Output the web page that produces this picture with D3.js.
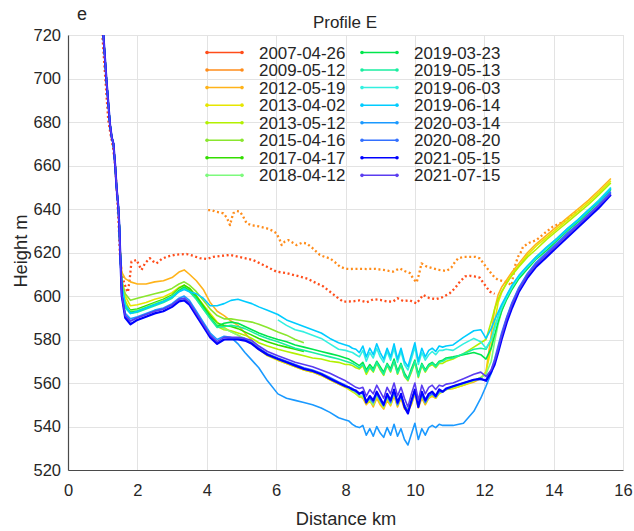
<!DOCTYPE html>
<html><head><meta charset="utf-8">
<script src="https://cdn.jsdelivr.net/npm/d3@7"></script>
<style>
body{margin:0;background:#fff}
svg{display:block}
text{font-family:"Liberation Sans",Arial,Helvetica,sans-serif;fill:#262626}
</style>
</head><body>
<svg id="chart" width="634" height="531"></svg>
<script>
// ---------------- DATA ----------------
const panelLabel = "e";
const chartTitle = "Profile E";
const xLabel = "Distance km";
const yLabel = "Height m";
const xTicks = [0,2,4,6,8,10,12,14,16];
const yTicks = [520,540,560,580,600,620,640,660,680,700,720];

const dates = ["2007-04-26","2009-05-12","2012-05-19","2013-04-02","2013-05-12","2015-04-16","2017-04-17","2018-04-12",
               "2019-03-23","2019-05-13","2019-06-03","2019-06-14","2020-03-14","2020-08-20","2021-05-15","2021-07-15"];

// shared ice-cliff part at the start of each solid profile
const steepKm = [0.95,1.02,1.11,1.21,1.26,1.31,1.36,1.40,1.45,1.48,1.50];
const steepHeight = [728,720,699,679,673,670,660,650,641,632,622];

// distance grid (km) for the solid profiles
const gridKm = [1.55,1.65,1.8,2.0,2.25,2.5,2.75,3.0,3.2,3.35,3.5,3.7,3.9,4.1,4.3,4.5,4.7,4.9,5.1,5.3,5.5,5.75,6.05,6.3,6.55,6.8,7.05,7.3,7.55,7.8,8.0,
 8.1,8.2,8.3,8.4,8.5,8.6,8.7,8.8,8.9,9.0,9.1,9.2,9.3,9.4,9.5,9.6,9.7,9.8,9.9,10.0,10.1,10.2,10.3,10.4,10.5,10.6,10.7,10.8,10.9,
 11.1,11.4,11.7,11.9,12.05,12.2,12.3,12.4,12.5,12.65,12.8,13.0,13.25,13.5,13.8,14.1,14.4,14.7,15.0,15.3,15.65];

const h20120519 = [611,608,606.5,605.5,605.5,606.5,607,608.5,611,612,610,607,603,597,593,591,588.5,586.5,583,579.5,576,573,570.5,569,567.5,566,565,563.5,561.5,559.5,558,
 557.5,556.5,555,554,553,550,552,549,553,550,548,552,549.5,554,549,553,548,547,550,555,548.5,553,550,553,554,553,555.5,556,557,
 557.5,559,560.5,562,565,582,594,600.5,604,607.5,611,615,620,624,628,632,636,640,644,648.5,654];
const h20130402 = [607,600,595.5,596,597,598.5,599.5,601.5,604,605,603.5,600,596,592,588,585.5,583.5,582,580,578,575.5,572.5,570.5,569,567.5,566,565,563.5,561.5,559.5,558,
 557,556,555,553.5,553.5,550.5,551.5,550,554,551,548.5,553,550,555,549.5,553.5,549,548,550.5,555.5,549,554,550.5,553,554.5,553,555,556,557,
 557.5,559,561,562.5,565,576,588,597,601.5,606,610,614,619,623,627,631,635,639,643,647.5,653];
const h20130512 = [605,598,593,593.5,595,596.5,598,600,603,604.5,603,599.5,595,590,586,584.5,584,583,582,580.5,578.5,577,575.5,574.5,573.5,572.5,571.5,571,570,569.5,568.5,
 568.5,568,567,566.5,568,564,567,565,569,566,563.5,568,565,570,564,568,563,561,565,569.5,562.5,568,565,567.5,568.5,567,569,569,570,
 571,573.5,576.5,578.5,580,588,594,598.5,602,606,609.5,613.5,618,621.5,626,630,634,638,642,646.5,652];
const h20150416 = [607,601,598,599,600,601,602,603.5,605.5,606.5,605,602,598,594,591,589.5,589.5,589,588.5,588,587,585.5,583.5,582,580,578.5,
 null,null,null,null,null,
 null,null,null,null,null,null,null,null,null,null,null,null,null,null,null,null,null,null,null,null,null,null,null,null,null,null,null,null,null,
 null,null,null,null,null,null,null,null,null,null,null,null,null,null,null,null,null,null,null,null,null];
const h20170417 = [604,596,593.5,594,595.5,597,598.5,600.5,603.5,605,603.5,600,595.5,591,587.5,586.5,586,585,583.5,582,580.5,579,577.5,576.5,575.5,574.5,
 null,null,null,null,null,
 null,null,null,null,null,null,null,null,null,null,null,null,null,null,null,null,null,null,null,null,null,null,null,null,null,null,null,null,null,
 null,null,null,null,null,null,null,null,null,null,null,null,null,null,null,null,null,null,null,null,null];
const h20180412 = [604,596,593,593.5,595,596.5,598,600,603,604,602.5,598.5,594,590,587,585,583.5,582,580.5,578.5,576,573,571,569.5,568,566.5,565.5,564,562,560,558.5,
 557.5,556.5,555.5,554,554,551,552.5,550,554.5,551.5,549,553.5,550.5,555.5,550,554,549.5,547.5,551,556,549.5,554.5,551,553.5,555,553.5,555.5,556,557,
 558,559.5,561,562.5,564,570,579,587,593,599.5,604,609,613.5,618,622.5,626.5,631,635,639.5,644,649.5];
const h20190323 = [603,595,592.5,593,594.5,596,597.5,599.5,602.5,604,602.5,599,594.5,590,586,587.5,588,587.5,586,584.5,583,581.5,580,579,577.5,576.5,575.5,574.5,573.5,572.5,571.5,
 571,570,569,568,569.5,566,568.5,566.5,570,567.5,565,569,566.5,571,565.5,569,564.5,562,566.5,570.5,564,569,566,568.5,569.5,568,570,570.5,571.5,
 572,573,574,573,571,576,582,588,593,598.5,603,608,612.5,617,621,625.5,630,634,638.5,643,649];
const h20190513 = [602.5,594.5,592,592.5,594,595.5,597,599,602,603.5,602,598.5,594,589.5,585.5,586,586.5,586,585,583.5,582,580.5,579,577.5,576,575,574,573,572,571,570,
 569.5,569,568,567,568.5,565,567.5,565.5,569.5,566.5,564,568.5,565.5,570,564.5,568.5,563.5,561.5,565.5,570,563,568.5,565.5,568,569,567.5,569.5,570,571,
 571.5,573.5,575.5,576,575.5,580,585.5,590.5,595,600,604.5,609,613.5,618,622,626,630.5,634.5,639,643.5,649.5];
const h20190603 = [null,null,null,null,null,null,null,null,null,null,null,null,null,null,null,null,null,null,null,null,null,null,
 589,586.5,584.5,583.5,582,580.5,578,575.5,575,
 574.5,574,573,572,575,570,574,571.5,576,572,569.5,574.5,570.5,576,569.5,574.5,568.5,566,571,576.5,568.5,574,570.5,573,574.5,573,575,575,575.5,
 575,578,580.5,579,576,580,585,590,594.5,599.5,604,609,613.5,617.5,622,626.5,631,635,639.5,644,650];
const h20190614 = [605,596,592,593,594.5,596,597.5,599.5,602,603,602,601,599,595.5,595.5,596.5,598,598.5,597.5,596.5,595,593.5,591.5,589,587.5,586,584.5,583,580.5,578.5,577.5,
 577,576,575.5,574,577,572,576,573,578,574,571,576,572,578,571,576,570,567.5,573,578.5,570,576,572,575,576,574.5,577,576.5,577,
 577.5,581,584,584.5,580.5,585,589,592.5,596,600.5,605,609.5,614,618,622.5,626.5,631,635,639.5,643.5,649.5];
const h20200314 = [601,592,589.5,590.5,592,593.5,594.5,596.5,599,600,598,593,588,583,580,581.5,581,578,574,570.5,567,561,555,553,552,551,550,548.5,546.5,544,543,
 542.5,541,540,539.5,540.5,536,539,535.5,540,537,535,539.5,536,541,535.5,539,534,531.5,536.5,541.5,534,539,536,539.5,540.5,539.5,541,540.5,540.5,
 540.5,541.5,547,553,558.5,564.5,570,576,582,590,596.5,603.5,610,615,619.5,624,628.5,632.5,637,641.5,647.5];
const h20200820 = [600.5,591,588.5,590,591.5,593,594,596,598.5,599,597,592,587,582,578.5,580,580.5,580.5,580,578.5,576,573.5,571.5,570,568.5,567,566,564.5,562.5,560.5,559,
 558,557.5,556,555.5,555,552,553,551,555,552,549.5,554,551,556,550,554,550,547,551,556,550,555,551,554,555,553.5,556,556,557,
 558.5,560,561.5,561.5,561.5,566,571,577,583,590.5,597,604,610.5,615.5,620,624.5,629,633,637.5,642,648];
const h20210515 = [600,590,587,589,590.5,592,593,595,597.5,598,596,591,586,581,578,580,580,580,579.5,578,575.5,573,571,569.5,568,566.5,565.5,564,562,560,558.5,
 558,557,556.5,555,556,551,554,552,556,553,550,555,552,557,551,555,549,546,552,557,549,556,552,555,556,554,557,556,557.5,
 558.5,560,561.5,562,561,565,568.5,574,580,588,594.5,602,608.5,613.5,618,622.5,627,631.5,636,640.5,646.5];
const h20210715 = [600.5,591,588.5,590,591.5,593,594,596,598.5,599,597,592,587,582,579,581,581,581,580.5,579.5,577,574.5,572.5,571,569.5,568.5,567.5,566,564.5,562.5,561,
 560,559,558,557.5,558,554,557,555,559,556,553,558,555,560,554,558,553,549,555,560,552,559,555,558,559,557,559,558.5,559.5,
 560,562,564,565,563,566,570,575.5,581.5,589.5,596,603,609.5,614.5,619,623.5,628,632.5,637,641.5,647];

// sparse (dotted) early profiles
const km20070426 = [0.97,1.0,1.08,1.16,1.22,1.3,1.36,1.42,1.47,1.5,1.55,1.62,1.69,1.73,1.78,1.83,1.98,2.05,2.12,2.22,2.36,2.45,2.55,2.7,2.84,3.1,3.42,3.6,3.8,4.0,4.18,4.38,4.67,5.04,5.33,5.6,6.01,6.3,6.69,6.9,7.17,7.35,7.55,7.75,7.93,8.2,8.4,8.61,8.8,9.0,9.2,9.37,9.5,9.66,9.85,10.05,10.24,10.42,10.62,10.8,11.0,11.15,11.3,11.45,11.58,11.72,11.87,12.0,12.16,12.3];
const h20070426 = [725,718,699,681,675,668,660,645,630,618,610,606,602.8,601.8,608,615.8,616.6,614,612,615,617.4,616,615,617,618,619,619.3,618.5,617.4,617,618,618.4,618.9,617.6,616.6,614.5,611.2,610.5,608.9,608,605.8,604.5,602,599.5,597.4,597.5,598,597.1,598.5,598.2,597.5,597.4,599,597.7,598,596.6,600.5,599,598.6,599.5,601.2,603.5,606.6,609,609.3,609,608.4,605.5,602,601];
const km20090512 = [4.04,4.15,4.24,4.35,4.48,4.58,4.67,4.76,4.86,4.96,5.05,5.15,5.3,5.5,5.73,5.9,6.01,6.1,6.16,6.25,6.35,6.48,6.59,6.75,6.88,7.05,7.26,7.4,7.55,7.7,7.84,8.0,8.13,8.4,8.61,8.85,9.09,9.25,9.37,9.47,9.57,9.7,9.86,9.95,10.05,10.12,10.19,10.35,10.53,10.7,10.91,11.05,11.15,11.25,11.4,11.58,11.75,11.87,12.0,12.16,12.3,12.4,12.6,12.79,12.88,12.97,13.05,13.12,13.3,13.5,13.75,13.98,14.2,14.37,14.55,14.75];
const h20090512 = [639.5,639.5,638.8,638.5,638,636,632.6,638,639,638.8,636.5,633.4,632.5,632,631.1,630,628.8,626,623.4,625,625.7,624.5,623.4,624.5,624.2,622,618.9,618,617.3,615.5,613.5,612.5,612.4,612.5,612.4,612.5,612,611.5,611.2,612,612.7,611.5,610.5,608,606.3,610,615,613.5,612.7,612,611.5,613,615.5,617.3,618,618,618,617.3,614.5,611.2,608.5,607.4,606.6,605,613.5,618,620,622.7,624.5,625.7,629,631.9,633.5,635,637.5,639.5];

// ---------------- STYLE ----------------
const seriesColors = ["#ff4d1a","#ff8c1a","#ffb31a","#e6e600","#b3f000","#8ae62e","#33dd00","#7dfa7d",
                      "#00e64d","#1aeea0","#33f0e0","#00ccff","#1a99ff","#3370ff","#0000ff","#5a3cf0"];

// ---------------- BUILD ----------------
const solidHeights = [h20120519,h20130402,h20130512,h20150416,h20170417,h20180412,h20190323,h20190513,h20190603,h20190614,h20200314,h20200820,h20210515,h20210715];
const series = [];
series.push({date:dates[0], color:seriesColors[0], dotted:true, pts:km20070426.map((k,i)=>[k,h20070426[i]])});
series.push({date:dates[1], color:seriesColors[1], dotted:true, pts:km20090512.map((k,i)=>[k,h20090512[i]])});
solidHeights.forEach((hs,j)=>{
  const i=j+2;
  let pts = gridKm.map((k,n)=>[k,hs[n]]);
  if (hs[0]!=null) pts = steepKm.map((k,n)=>[k,steepHeight[n]]).concat(pts);
  series.push({date:dates[i], color:seriesColors[i], dotted:false, pts});
});

const svg = d3.select("#chart");
const L=68,R=623,T=35,B=470;
const x = d3.scaleLinear().domain([0,16]).range([L,R]);
const y = d3.scaleLinear().domain([520,720]).range([B,T]);

// grid
const grid = svg.append("g").attr("stroke","#e3e3e3").attr("stroke-width",1);
grid.selectAll(".gx").data(xTicks).join("line").attr("x1",d=>Math.round(x(d))+0.5).attr("x2",d=>Math.round(x(d))+0.5).attr("y1",T).attr("y2",B);
grid.selectAll(".gy").data(yTicks).join("line").attr("y1",d=>Math.round(y(d))+0.5).attr("y2",d=>Math.round(y(d))+0.5).attr("x1",L).attr("x2",R);

// axes
const xAxis = svg.append("g").attr("transform",`translate(0,${B})`).call(d3.axisBottom(x).tickValues(xTicks).tickSize(0).tickPadding(14).tickFormat(d3.format("d")));
const yAxis = svg.append("g").attr("transform",`translate(${L},0)`).call(d3.axisLeft(y).tickValues(yTicks).tickSize(0).tickPadding(7).tickFormat(d3.format("d")));
[xAxis,yAxis].forEach(a=>{
  a.select(".domain").attr("stroke","#4a4a4a").attr("stroke-width",1.2);
  a.selectAll("text").attr("font-size","16.5px").attr("fill","#262626").attr("font-family","'Liberation Sans',Arial,sans-serif");
});

// clip
svg.append("clipPath").attr("id","clip").append("rect").attr("x",L).attr("y",T).attr("width",R-L).attr("height",B-T);

const line = d3.line().defined(d=>d[1]!=null).x(d=>x(d[0])).y(d=>y(d[1]));
const plot = svg.append("g").attr("clip-path","url(#clip)");
series.forEach((s,i)=>{
  plot.append("path").datum(s.pts).attr("d",line).attr("fill","none")
    .attr("stroke",s.color)
    .attr("stroke-width", s.dotted?2.3:(s.date==="2021-05-15"?2.2:1.6))
    .attr("stroke-dasharray", s.dotted?"2,2.6":null)
    .attr("stroke-linejoin","round");
});

// legend
const leg = svg.append("g");
series.forEach((s,i)=>{
  const col = Math.floor(i/8), row = i%8;
  const x0 = col===0?207:362, yy = 52.5+row*17.55;
  const g = leg.append("g");
  g.append("line").attr("x1",x0).attr("x2",x0+35).attr("y1",yy).attr("y2",yy).attr("stroke",s.color).attr("stroke-width",1.5);
  g.append("circle").attr("cx",x0).attr("cy",yy).attr("r",1.8).attr("fill",s.color);
  g.append("circle").attr("cx",x0+35).attr("cy",yy).attr("r",1.8).attr("fill",s.color);
  g.append("text").attr("x",x0+52).attr("y",yy+6).attr("font-size","16.9px").text(s.date);
});

// titles & labels
svg.append("text").attr("x",345).attr("y",28).attr("text-anchor","middle").attr("font-size","17px").text(chartTitle);
svg.append("text").attr("x",77).attr("y",20).attr("font-size","18px").text(panelLabel);
svg.append("text").attr("x",346).attr("y",525).attr("text-anchor","middle").attr("font-size","18.3px").text(xLabel);
svg.append("text").attr("transform","translate(27,251) rotate(-90)").attr("text-anchor","middle").attr("font-size","18.3px").text(yLabel);
</script>
</body></html>
